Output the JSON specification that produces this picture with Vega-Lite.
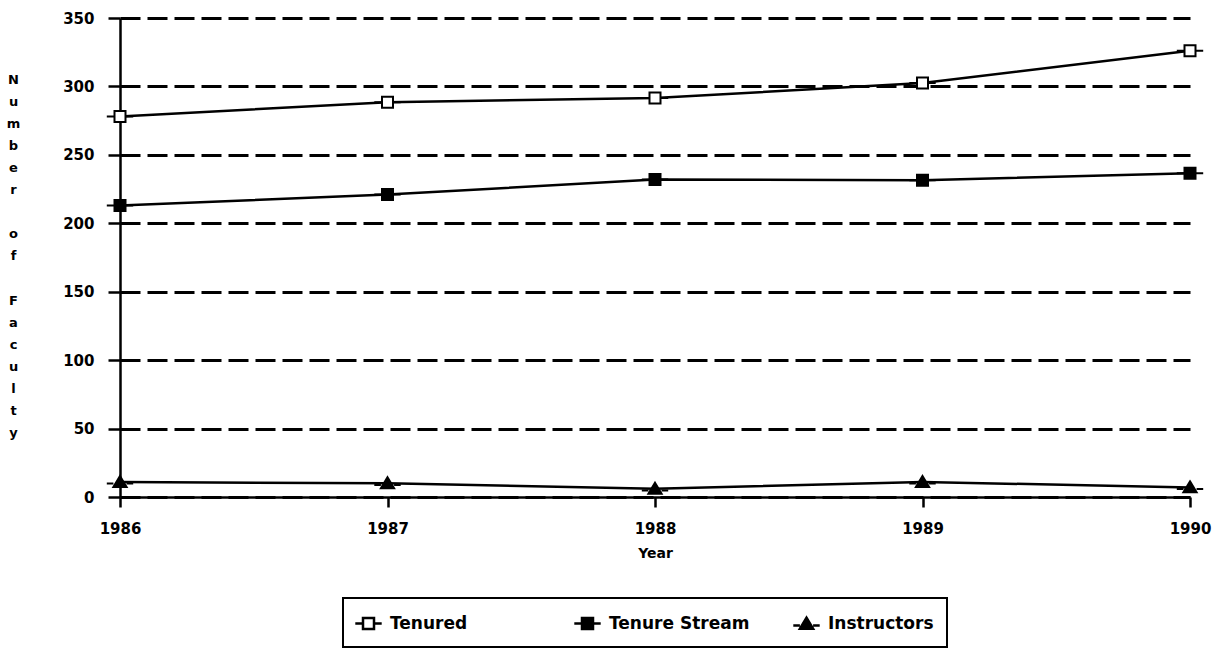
{
  "$schema": "https://vega.github.io/schema/vega-lite/v6.json",
  "width": 1070,
  "height": 479,
  "autosize": {"type": "none"},
  "padding": {"left": 120, "top": 18, "right": 41, "bottom": 151},
  "background": "white",
  "data": {
    "values": [
      {"year": 1986, "series": "Tenured", "value": 278},
      {"year": 1987, "series": "Tenured", "value": 288.5},
      {"year": 1988, "series": "Tenured", "value": 291.5},
      {"year": 1989, "series": "Tenured", "value": 302.5},
      {"year": 1990, "series": "Tenured", "value": 326},
      {"year": 1986, "series": "Tenure Stream", "value": 213},
      {"year": 1987, "series": "Tenure Stream", "value": 221},
      {"year": 1988, "series": "Tenure Stream", "value": 232},
      {"year": 1989, "series": "Tenure Stream", "value": 231.5},
      {"year": 1990, "series": "Tenure Stream", "value": 236.5},
      {"year": 1986, "series": "Instructors", "value": 11},
      {"year": 1987, "series": "Instructors", "value": 10},
      {"year": 1988, "series": "Instructors", "value": 6},
      {"year": 1989, "series": "Instructors", "value": 11},
      {"year": 1990, "series": "Instructors", "value": 7}
    ]
  },
  "encoding": {
    "x": {
      "field": "year",
      "type": "quantitative",
      "scale": {"domain": [1986, 1990], "nice": false, "zero": false},
      "axis": {
        "title": "Year",
        "values": [1986, 1987, 1988, 1989, 1990],
        "format": "d",
        "grid": false,
        "domain": true,
        "domainColor": "black",
        "domainWidth": 2.5,
        "ticks": true,
        "tickColor": "black",
        "tickWidth": 2.5,
        "tickSize": 10,
        "labelPadding": 14,
        "labelFont": "DejaVu Sans",
        "labelFontWeight": "bold",
        "labelFontSize": 15,
        "labelColor": "black",
        "labelFlush": false,
        "titleFont": "DejaVu Sans",
        "titleFontWeight": "bold",
        "titleFontSize": 14,
        "titleColor": "black",
        "titlePadding": 10
      }
    },
    "y": {
      "field": "value",
      "type": "quantitative",
      "scale": {"domain": [0, 350], "nice": false},
      "axis": {
        "title": ["N", "u", "m", "b", "e", "r", "\u200b", "o", "f", "\u200b", "F", "a", "c", "u", "l", "t", "y"],
        "titleAngle": 0,
        "titleX": -107,
        "titleY": 65,
        "titleAlign": "center",
        "titleBaseline": "alphabetic",
        "titleLineHeight": 22.1,
        "titleFont": "DejaVu Sans",
        "titleFontWeight": "bold",
        "titleFontSize": 13,
        "titleColor": "black",
        "values": [0, 50, 100, 150, 200, 250, 300, 350],
        "grid": true,
        "gridColor": "black",
        "gridWidth": 3,
        "gridDash": [20, 7],
        "gridOpacity": 1,
        "domain": true,
        "domainColor": "black",
        "domainWidth": 2.5,
        "ticks": true,
        "tickColor": "black",
        "tickWidth": 2.5,
        "tickSize": 12,
        "labelPadding": 14,
        "labelFont": "DejaVu Sans",
        "labelFontWeight": "bold",
        "labelFontSize": 15,
        "labelColor": "black"
      }
    }
  },
  "layer": [
    {
      "mark": {"type": "line", "stroke": "black", "strokeWidth": 2.5},
      "encoding": {"detail": {"field": "series"}}
    },
    {
      "mark": {"type": "point", "filled": false, "strokeWidth": 2, "opacity": 1, "size": 484},
      "encoding": {
        "shape": {
          "field": "series",
          "type": "nominal",
          "scale": {
            "domain": ["Tenured", "Tenure Stream", "Instructors"],
            "range": [
              "M-1.2,0H-0.5M0.5,0H1.2M-0.5,-0.5H0.5V0.5H-0.5Z",
              "M-1.2,0H-0.5M0.5,0H1.2M-0.5,-0.5H0.5V0.5H-0.5Z",
              "M-1.2,0.15H-0.6M0.6,0.15H1.2M0,-0.55L0.6,0.45H-0.6Z"
            ]
          },
          "legend": {
            "title": null,
            "orient": "none",
            "legendX": 223,
            "legendY": 580,
            "direction": "horizontal",
            "symbolSize": 484,
            "symbolStrokeWidth": 2.5,
            "labelFont": "DejaVu Sans",
            "labelFontWeight": "bold",
            "labelFontSize": 17,
            "labelColor": "black",
            "labelOffset": 9,
            "columnPadding": 38,
            "gridAlign": "all",
            "padding": 13,
            "strokeColor": "black"
          }
        },
        "fill": {
          "field": "series",
          "type": "nominal",
          "scale": {
            "domain": ["Tenured", "Tenure Stream", "Instructors"],
            "range": ["white", "black", "black"]
          },
          "legend": {
            "title": null,
            "orient": "none",
            "legendX": 223,
            "legendY": 580,
            "direction": "horizontal",
            "symbolSize": 484,
            "symbolStrokeWidth": 2.5,
            "labelFont": "DejaVu Sans",
            "labelFontWeight": "bold",
            "labelFontSize": 17,
            "labelColor": "black",
            "labelOffset": 9,
            "columnPadding": 38,
            "gridAlign": "all",
            "padding": 13,
            "strokeColor": "black"
          }
        },
        "stroke": {
          "field": "series",
          "type": "nominal",
          "scale": {
            "domain": ["Tenured", "Tenure Stream", "Instructors"],
            "range": ["black", "black", "black"]
          },
          "legend": {
            "title": null,
            "orient": "none",
            "legendX": 223,
            "legendY": 580,
            "direction": "horizontal",
            "symbolSize": 484,
            "symbolStrokeWidth": 2.5,
            "labelFont": "DejaVu Sans",
            "labelFontWeight": "bold",
            "labelFontSize": 17,
            "labelColor": "black",
            "labelOffset": 9,
            "columnPadding": 38,
            "gridAlign": "all",
            "padding": 13,
            "strokeColor": "black"
          }
        }
      }
    }
  ],
  "config": {
    "view": {"stroke": null},
    "legend": {"strokeWidth": 2}
  }
}
